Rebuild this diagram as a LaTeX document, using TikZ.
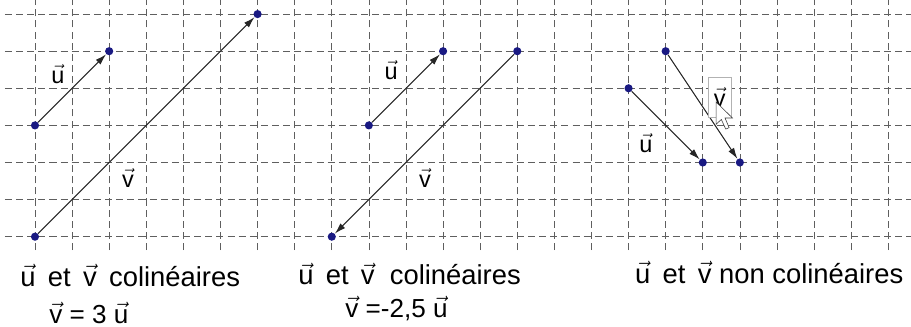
\documentclass[tikz,border=0pt]{standalone}
\usepackage{fontspec}
\setmainfont{Liberation Sans}
\usetikzlibrary{arrows.meta, positioning}
\definecolor{bleupoint}{RGB}{25,25,130}
\definecolor{grisgrille}{RGB}{95,95,95}
\newcommand{\vect}[1]{$\vec{\mbox{#1}}$}
\newcommand{\esp}{\hspace{0.45em}}

\begin{document}
\begin{tikzpicture}[
        grille/.style={draw=grisgrille, line width=0.55pt, dash pattern=on 0.19cm off 0.11cm},
        point/.style={circle, fill=bleupoint, inner sep=0pt, minimum size=0.22cm},
        vecteur/.style={-{Latex[length=0.3cm, width=0.18cm]}, draw=black!85, line width=0.8pt},
        lettre/.style={font=\fontsize{18}{21}\selectfont, inner sep=0pt},
        legende/.style={anchor=base west, font=\fontsize{21}{25}\selectfont, inner sep=0pt},
        egalite/.style={legende, font=\fontsize{20}{24}\selectfont}
    ]
        \useasboundingbox (-0.943,-2.434) rectangle (23.613,6.380);
        % quadrillage
        \foreach \y in {0,...,6}
            \draw[grille] (-0.81,\y) -- (23.613,\y);
        \foreach \x in {-1,...,23}
            \draw[grille] (\x,-0.36) -- (\x,6.38);

        % v = 3 u
        \node[point] (u1a) at (0,3) {};
        \node[point] (u1b) at (2,5) {};
        \node[point] (v1a) at (0,0) {};
        \node[point] (v1b) at (6,6) {};
        \draw[vecteur] (u1a) -- (u1b);
        \draw[vecteur] (v1a) -- (v1b);
        \node[lettre] (lu1) at (0.62,4.38) {\vect{u}};
        \node[lettre] (lv1) at (2.51,1.58) {\vect{v}};

        % v = -2,5 u
        \node[point] (u2a) at (9,3) {};
        \node[point] (u2b) at (11,5) {};
        \node[point] (v2a) at (13,5) {};
        \node[point] (v2b) at (8,0) {};
        \draw[vecteur] (u2a) -- (u2b);
        \draw[vecteur] (v2a) -- (v2b);
        \node[lettre] (lu2) at (9.60,4.49) {\vect{u}};
        \node[lettre] (lv2) at (10.51,1.58) {\vect{v}};

        % non colineaires
        \node[point] (u3a) at (16,4) {};
        \node[point] (u3b) at (18,2) {};
        \node[point] (v3a) at (17,5) {};
        \node[point] (v3b) at (19,2) {};
        \draw[vecteur] (u3a) -- (u3b);
        \draw[vecteur] (v3a) -- (v3b);
        \node[lettre] (lu3) at (16.47,2.52) {\vect{u}};
        \node[lettre, draw=black!30, fill=white, minimum width=0.62cm, minimum height=1.08cm] (lv3) at (18.46,3.76) {\vect{v}};
        \coordinate (curseur) at (18.36,3.63);
        \draw[fill=white, draw=black!75, line width=0.45pt] (curseur) -- ++(0,-0.6) -- ++(0.14,0.13)
            -- ++(0.12,-0.26) -- ++(0.09,0.04) -- ++(-0.11,0.26) -- ++(0.2,0) -- cycle;

        % legendes
        \node[legende] (t1) at (-0.40,-1.33) {\vect{u}\esp et\esp \vect{v}\esp colinéaires};
        \node[egalite] (e1) at (0.38,-2.33) {\vect{v} = 3 \vect{u}};
        \node[legende] (t2) at (7.09,-1.30) {\vect{u}\esp et\esp \vect{v}\ \ colinéaires};
        \node[egalite] (e2) at (8.36,-2.19) {\vect{v} =-2,5 \vect{u}};
        \node[legende] (t3) at (16.17,-1.25) {\vect{u}\esp et\esp \vect{v} non colinéaires};
    \end{tikzpicture}
\end{document}
